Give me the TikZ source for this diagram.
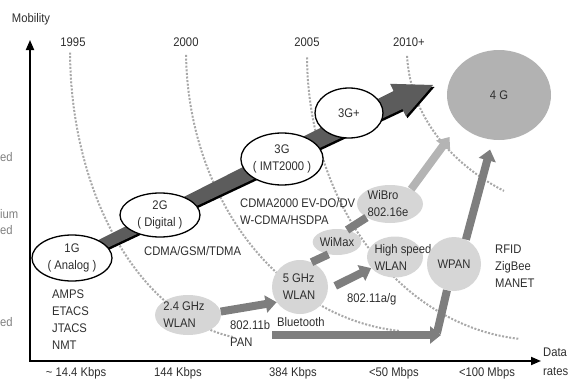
\documentclass[tikz,border=0pt]{standalone}
\usepackage{fontspec}
\setmainfont{Liberation Sans}[FakeStretch=0.9]
\usetikzlibrary{shapes.geometric,arrows.meta}
\definecolor{txtgray}{HTML}{2E2E2E}
\definecolor{bandgray}{HTML}{5C5C5C}
\definecolor{bubblegray}{HTML}{D6D6D6}
\definecolor{bigbubble}{HTML}{B2B2B2}
\definecolor{arrowgray}{HTML}{7E7E7E}
\definecolor{lightarrow}{HTML}{B4B4B4}
\definecolor{dotgray}{HTML}{A8A8A8}

\begin{document}
\begin{tikzpicture}[x=1pt, y=-1pt, font=\fontsize{12.5}{17}\selectfont, text=txtgray]

% Define styles
\tikzstyle{gen} = [draw=black, line width=1.3pt, fill=white, ellipse, inner sep=0pt, align=center]
\tikzstyle{bubble} = [fill=bubblegray, ellipse, inner sep=0pt]
\tikzstyle{tag} = [align=left, inner sep=0pt]
\tikzstyle{note} = [align=left, inner sep=0pt, anchor=west]
\tikzstyle{era} = [draw=dotgray, line width=2pt, dash pattern=on 2pt off 1.6pt]
\tikzstyle{fatline} = [draw=arrowgray, line width=8pt]
\tikzstyle{fatarrow} = [fatline, -{Triangle[width=17pt, length=11pt]}]
\tikzstyle{axis} = [line width=1.8pt, line join=miter, {Triangle[width=8pt, length=10pt]}-{Triangle[width=8pt, length=10pt]}]

\useasboundingbox (0,0) rectangle (571,380);

% Axes
\coordinate (ytip) at (30,40);
\coordinate (origin) at (30,361);
\coordinate (xtip) at (541,361);
\draw[axis] (ytip) -- (origin) -- (xtip);
\node (mobility) at (31,19) {Mobility};
\node[note] (rates) at (543,362) {Data\\[2pt]rates};

% Years and data rates
\foreach \yr/\px in {1995/73, 2000/186, 2005/307, 2010+/409}
  \node (yr\px) at (\px,42) {\yr};
\foreach \rt/\px in {\textasciitilde{} 14.4 Kbps/76, 144 Kbps/178, 384 Kbps/293, <50 Mbps/394, <100 Mbps/487}
  \node[anchor=south, inner sep=0pt] (rt\px) at (\px,379.5) {\rt};

% Cut-off labels at the left edge
\node[note, text=gray] (cutA) at (0,157) {ed};
\node[note, text=gray] (cutB) at (0,214) {ium};
\node[note, text=gray] (cutC) at (0,230) {ed};
\node[note, text=gray] (cutD) at (0,322) {ed};

% Era lines
\draw[era] plot[domain=0.5:82, samples=60] ({260-190*cos(\x)}, {50+290*sin(\x)});
\draw[era] plot[domain=1:85, samples=60] ({420-234*cos(\x)}, {50+282*sin(\x)});
\draw[era] plot[domain=0.5:85, samples=60] ({540-233*cos(\x)}, {55+285*sin(\x)});
\draw[era] plot[domain=2:57, samples=50] ({620-213*cos(\x)}, {50+168*sin(\x)});

% Generation band
\fill[black] (75.7,265.5) -- (403.9,111) -- (407.4,118.2) -- (434.5,87) -- (391.6,85.8) -- (395.1,93) -- (71.3,256.5) -- cycle;
\fill[bandgray] (74.2,263.5) -- (402.4,109) -- (405.9,116.2) -- (433,85) -- (390.1,83.8) -- (393.6,91) -- (69.8,254.5) -- cycle;

% Generations
\node[gen, minimum width=80pt, minimum height=46pt] (g1) at (72,258) {1G\\( Analog )};
\node[gen, minimum width=80pt, minimum height=44pt] (g2) at (160,215) {2G\\( Digital )};
\node[gen, minimum width=82pt, minimum height=52pt] (g3) at (282,159) {3G\\( IMT2000 )};
\node[gen, minimum width=68pt, minimum height=50pt] (g3p) at (349,113) {3G+};
\node[bubble, fill=bigbubble, minimum width=104pt, minimum height=90pt] (g4) at (499,95) {4 G};

% Wireless networks
\node[bubble, minimum width=66pt, minimum height=40pt, label={[tag, xshift=-4pt]center:2.4 GHz\\WLAN}] (wlan24) at (188,315) {};
\node[bubble, minimum width=56pt, minimum height=54pt, label={[tag, xshift=-1pt]center:5 GHz\\WLAN}] (wlan5) at (300,287) {};
\node[bubble, minimum width=48pt, minimum height=26pt] (wimax) at (337,242) {WiMax};
\node[bubble, minimum width=66pt, minimum height=38pt, label={[tag, xshift=-2pt]center:WiBro\\802.16e}] (wibro) at (390,204) {};
\node[bubble, minimum width=56pt, minimum height=41pt, label={[tag, xshift=8pt]center:High speed\\WLAN}] (hswlan) at (395,257) {};
\node[bubble, circle, minimum size=54pt] (wpan) at (454,264) {WPAN};

% Technologies
\node[note] (analog) at (52,319.5) {AMPS\\ETACS\\JTACS\\NMT};
\node[note] (digital) at (144,251) {CDMA/GSM/TDMA};
\node[note] (imt) at (240,211.5) {CDMA2000 EV-DO/DV\\W-CDMA/HSDPA};
\node[note] (pan) at (230,333.5) {802.11b\\PAN};
\node[note] (bluetooth) at (277,322) {Bluetooth};
\node[note] (wifi) at (347,299) {802.11a/g};
\node[note] (sensor) at (495,266) {RFID\\ZigBee\\MANET};

% Paths between networks
\coordinate (panstart) at (272,335);
\coordinate (bend) at (441,335);
\coordinate (bendfoot) at (437,333);
\draw[fatarrow] (wlan24.6) -- (wlan5.213);
\draw[fatline] (wlan5.65) -- (wimax.235);
\draw[fatline] (wimax.50) -- (wibro.210);
\draw[fatarrow, shorten <=8pt] (wlan5.-5) -- (hswlan.205);
\draw[fatarrow, draw=lightarrow, shorten >=16pt] (wibro.35) -- (g4.216);
\draw[fatarrow] (panstart) -- (bend);
\draw[fatline] (bendfoot) -- (wpan.255);
\draw[fatarrow, shorten >=10pt] (wpan.64) -- (g4.262);

\end{tikzpicture}
\end{document}
